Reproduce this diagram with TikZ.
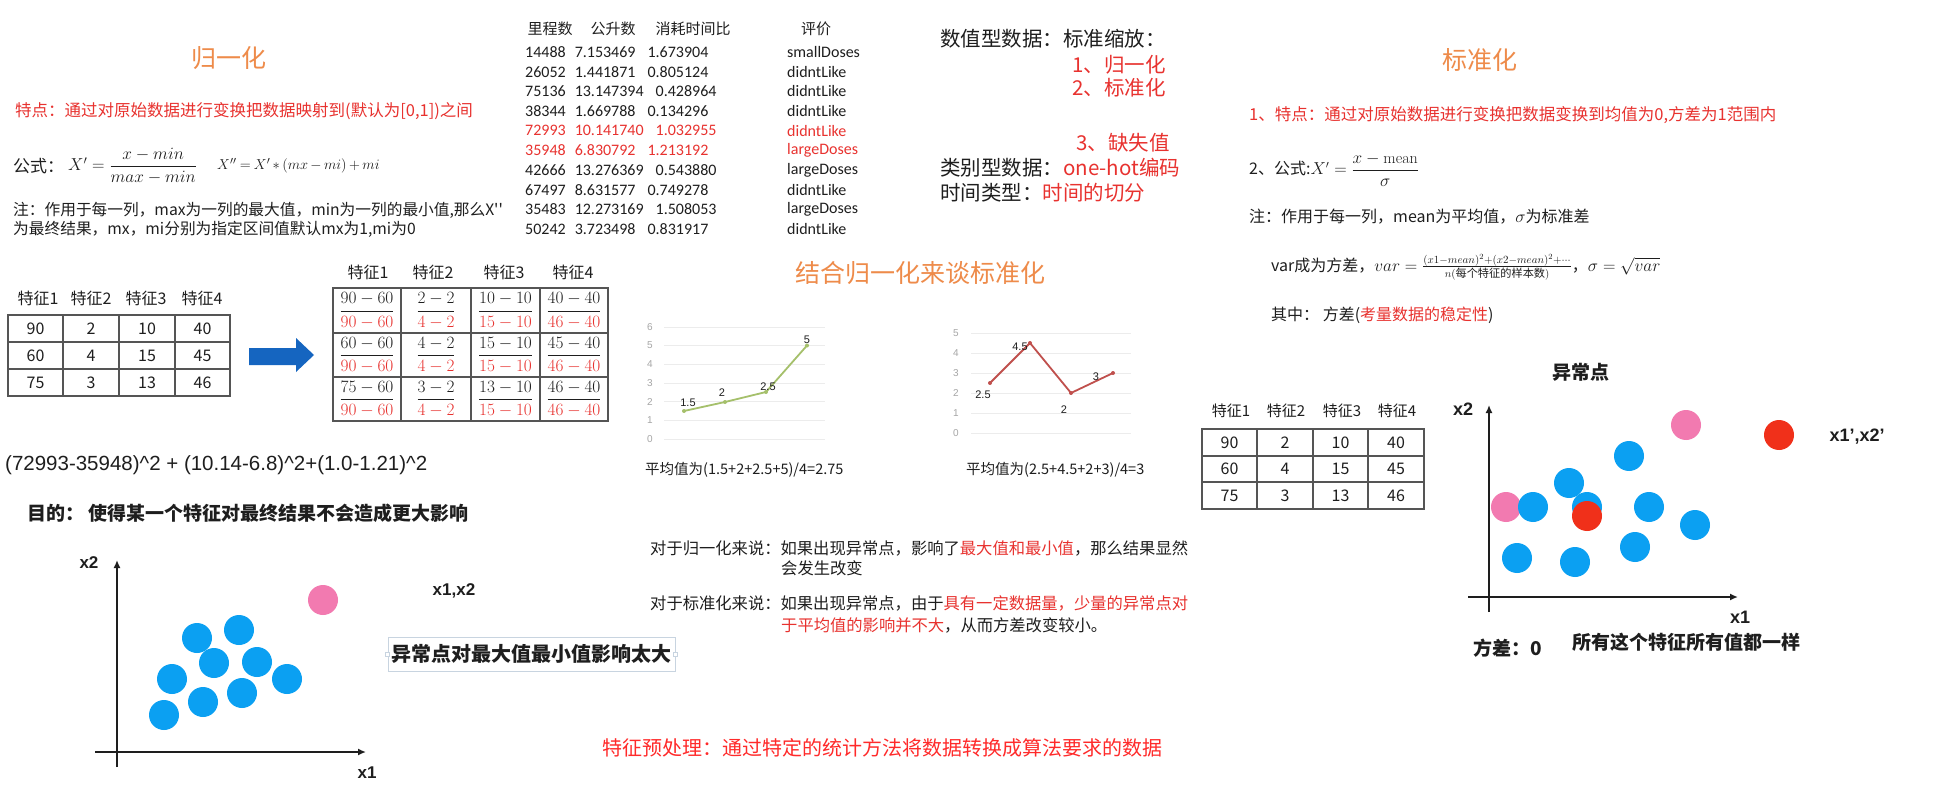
\documentclass[tikz,border=0pt]{standalone}
\usepackage{fontspec}
\usepackage{amsmath}
\newfontfamily\cjk{Noto Sans CJK SC}
\newfontfamily\arialf{Liberation Sans}
\newfontfamily\calib{Carlito}
\usetikzlibrary{arrows.meta}
\definecolor{ttl}{HTML}{EE8B4A}
\definecolor{ink}{HTML}{1E1E1E}
\definecolor{redtxt}{HTML}{E8322F}
\definecolor{brightred}{HTML}{FF2A2A}
\definecolor{tblgray}{HTML}{555555}
\definecolor{dotblue}{HTML}{0BA0F2}
\definecolor{dotpink}{HTML}{F27AB0}
\definecolor{dotred}{HTML}{F0301A}
\definecolor{arrblue}{HTML}{1565C0}
\definecolor{lgreen}{HTML}{A5C06B}
\definecolor{lred}{HTML}{C0504D}
\definecolor{boxgray}{HTML}{C8D4E0}
\newcommand\fsz[1]{\fontsize{#1}{#1}\selectfont}
\tikzset{
 txt/.style={inner sep=0pt,anchor=west,text=ink,font={\cjk\fsz{#1}}},
 txt/.default=16,
 ctxt/.style={txt=#1,anchor=center},
 ctxt/.default=16,
 rtxt/.style={txt=#1,text=redtxt},
 rtxt/.default=16,
 btxt/.style={inner sep=0pt,anchor=center,text=ink,font={\cjk\bfseries\fsz{#1}}},
 btxt/.default=18,
 ltxt/.style={inner sep=0pt,anchor=center,text=ink,font={\arialf\bfseries\fsz{#1}}},
 ltxt/.default=18,
 ttlstyle/.style={inner sep=0pt,text=ttl,font={\cjk\fsz{#1}}},
 ttlstyle/.default=25,
 numtxt/.style={inner sep=0pt,anchor=west,text=ink,font={\calib\fsz{16}}},
 tcell/.style={inner sep=0pt,text=ink,font={\cjk\fsz{16}}},
 fcell/.style={inner sep=0pt,text=ink,font={\fsz{16}}},
 tbl/.style={draw=tblgray,line width=1.2pt},
 dotb/.style={circle,fill=dotblue,minimum size=30pt,inner sep=0pt},
 dotp/.style={dotb,fill=dotpink},
 dotr/.style={dotb,fill=dotred},
 ax/.style={draw=ink,line width=1.6pt,-{Latex[length=8pt,width=7pt]}},
 gridln/.style={draw=gray!15,line width=0.6pt},
 ticklab/.style={inner sep=0pt,text=gray!70,font={\arialf\fsz{10}}},
 plab/.style={inner sep=0pt,text=ink,font={\arialf\fsz{11}}},
 mk/.style={circle,inner sep=0pt,minimum size=4pt},
}
\begin{document}
\begin{tikzpicture}[x=1pt,y=-1pt]
\useasboundingbox (0,0) rectangle (1938,810);
\fill[white] (0,0) rectangle (1938,810);

% ================= LEFT: normalisation =================
\node[ttlstyle] (t1) at (229,58) {归一化};
\node[rtxt=16.5] (l1) at (15,111) {特点：通过对原始数据进行变换把数据映射到(默认为[0,1])之间};
\node[txt=17] (l2a) at (13,166) {公式：};
\node[txt=17] (l2b) at (68,166) {$X' = \dfrac{x-min}{max-min}$};
\node[txt=15.5] (l2c) at (217,166) {\medmuskip=3mu\thickmuskip=4mu$X'' = X' * (mx-mi) + mi$};
\node[txt=15.7] (l3) at (13,210) {注：作用于每一列，max为一列的最大值，min为一列的最小值,那么X''};
\node[txt=15.7] (l4) at (13,229) {为最终结果，mx，mi分别为指定区间值默认mx为1,mi为0};

% left table
\foreach \h/\xx [count=\k] in {特征1/38,特征2/91,特征3/146,特征4/202}
  \node[tcell] (lh\k) at (\xx,298) {\h};
\draw[tbl] (8,315) rectangle (230,396);
\foreach \xx in {63,119,175} \draw[tbl] (\xx,315) -- (\xx,396);
\foreach \yy in {342,369} \draw[tbl] (8,\yy) -- (230,\yy);
\foreach \a/\b/\c/\d/\yy [count=\r] in {90/2/10/40/328.5,60/4/15/45/355.5,75/3/13/46/382.5}{
  \node[tcell] (la\r-1) at (35.5,\yy) {\a};
  \node[tcell] (la\r-2) at (91,\yy) {\b};
  \node[tcell] (la\r-3) at (147,\yy) {\c};
  \node[tcell] (la\r-4) at (202.5,\yy) {\d};
}
% blue arrow
\fill[arrblue] (249,348) -- (296,348) -- (296,338) -- (314,355) -- (296,372) -- (296,365) -- (249,365) -- cycle;

% right table with fractions
\foreach \h/\xx [count=\k] in {特征1/368,特征2/433,特征3/504,特征4/573}
  \node[tcell] (rh\k) at (\xx,272) {\h};
\draw[tbl] (333,288) rectangle (608,421);
\foreach \xx in {401,471,540} \draw[tbl] (\xx,288) -- (\xx,421);
\foreach \yy in {333,377} \draw[tbl] (333,\yy) -- (608,\yy);
\foreach \na/\da/\nb/\db/\nc/\dc/\nd/\dd/\yy [count=\r] in
 {90-60/90-60/2-2/4-2/10-10/15-10/40-40/46-40/310.5,
  60-60/90-60/4-2/4-2/15-10/15-10/45-40/46-40/355,
  75-60/90-60/3-2/4-2/13-10/15-10/46-40/46-40/399}{
  \node[fcell] (fr\r-1) at (367,\yy) {$\dfrac{\na}{\color{redtxt}\da}$};
  \node[fcell] (fr\r-2) at (436,\yy) {$\dfrac{\nb}{\color{redtxt}\db}$};
  \node[fcell] (fr\r-3) at (505.5,\yy) {$\dfrac{\nc}{\color{redtxt}\dc}$};
  \node[fcell] (fr\r-4) at (574,\yy) {$\dfrac{\nd}{\color{redtxt}\dd}$};
}

\node[inner sep=0pt,anchor=west,text=ink,font={\arialf\fsz{20.5}}] (dist) at (5,465) {(72993-35948)\^{}2 + (10.14-6.8)\^{}2+(1.0-1.21)\^{}2};
\node[btxt=19,anchor=west] (goal) at (27,513) {目的：\ 使得某一个特征对最终结果不会造成更大影响};

% left scatter
\coordinate (lv0) at (117,767);
\coordinate (lv1) at (117,560);
\coordinate (lh0) at (95,752);
\coordinate (lh1) at (366,752);
\draw[ax] (lv0) -- (lv1);
\draw[ax] (lh0) -- (lh1);
\node[ltxt=17] (lx2) at (89,563) {x2};
\node[ltxt=17] (lx1) at (367,773) {x1};
\foreach \px/\py [count=\k] in {197/638,239/630,214/663,257/662,172/679,287/679,203/702,242/693,164/715}
  \node[dotb] (ld\k) at (\px,\py) {};
\node[dotp] (ldp) at (323,600) {};
\node[ltxt=17] (lx12) at (454,591) {x1,x2};
\node[btxt=20,draw=boxgray,line width=0.8pt,minimum width=287pt,minimum height=34pt] (box) at (531.5,654) {异常点对最大值最小值影响太大};
\draw[boxgray,fill=white,line width=0.6pt] ([shift={(-2,-2)}]box.west) rectangle ([shift={(2,2)}]box.west);
\draw[boxgray,fill=white,line width=0.6pt] ([shift={(-2,-2)}]box.east) rectangle ([shift={(2,2)}]box.east);

% ================= MIDDLE top: data =================
\node[ctxt=15] (dh1) at (550,29) {里程数};
\node[ctxt=15] (dh2) at (613,29) {公升数};
\node[ctxt=15] (dh3) at (693,29) {消耗时间比};
\node[ctxt=15] (dh4) at (816,29) {评价};
\foreach \a/\b/\c/\d/\cl [count=\r] in {
  14488/7.153469/1.673904/smallDoses/ink,
  26052/1.441871/0.805124/didntLike/ink,
  75136/13.147394/0.428964/didntLike/ink,
  38344/1.669788/0.134296/didntLike/ink,
  72993/10.141740/1.032955/didntLike/redtxt,
  35948/6.830792/1.213192/largeDoses/redtxt,
  42666/13.276369/0.543880/largeDoses/ink,
  67497/8.631577/0.749278/didntLike/ink,
  35483/12.273169/1.508053/largeDoses/ink,
  50242/3.723498/0.831917/didntLike/ink}{
  \pgfmathsetmacro\yy{52+19.66*(\r-1)}
  \node[numtxt,text=\cl] (dr\r) at (525,\yy) {\a\hspace{9pt}\b\hspace{12pt}\c};
  \node[numtxt,text=\cl] (dv\r) at (787,\yy) {\d};
}

% data-type panel
\node[txt=20.5] (p1) at (940,39) {数值型数据：标准缩放：};
\node[rtxt=20.5] (p2) at (1072,65) {1、归一化};
\node[rtxt=20.5] (p3) at (1072,88) {2、标准化};
\node[rtxt=20.5] (p4) at (1076,143) {3、缺失值};
\node[txt=20.5] (p5) at (940,168) {类别型数据：\textcolor{redtxt}{one-hot编码}};
\node[txt=20.5] (p6) at (940,193) {时间类型：\textcolor{redtxt}{时间的切分}};

% ================= MIDDLE: charts =================
\node[ttlstyle=25] (t2) at (920,273) {结合归一化来谈标准化};
\foreach \v in {0,...,6}{
  \draw[gridln] (664,{439-18.7*\v}) -- (825,{439-18.7*\v});
  \node[ticklab] (ca\v) at (650,{439-18.7*\v}) {\v};
}
\coordinate (c1a) at (684,411);
\coordinate (c1b) at (725,402);
\coordinate (c1c) at (766,392);
\coordinate (c1d) at (807,345.5);
\draw[lgreen,line width=1.8pt] (c1a) -- (c1b) -- (c1c) -- (c1d);
\foreach \c in {c1a,c1b,c1c,c1d} \node[mk,fill=lgreen] (m\c) at (\c) {};
\node[plab] (p1a) at (688,403) {1.5};
\node[plab] (p1b) at (722,393) {2};
\node[plab] (p1c) at (768,387) {2.5};
\node[plab] (p1d) at (807,340) {5};
\node[txt=14.5] (avg1) at (645,470) {平均值为(1.5+2+2.5+5)/4=2.75};

\foreach \v in {0,...,5}{
  \draw[gridln] (971,{433-20*\v}) -- (1131,{433-20*\v});
  \node[ticklab] (cb\v) at (956,{433-20*\v}) {\v};
}
\coordinate (c2a) at (990,383);
\coordinate (c2b) at (1030,343);
\coordinate (c2c) at (1071,393);
\coordinate (c2d) at (1113,373);
\draw[lred,line width=1.8pt] (c2a) -- (c2b) -- (c2c) -- (c2d);
\foreach \c in {c2a,c2b,c2c,c2d} \node[mk,fill=lred] (m\c) at (\c) {};
\node[plab] (p2a) at (983,395) {2.5};
\node[plab] (p2b) at (1020,347) {4.5};
\node[plab] (p2c) at (1064,410) {2};
\node[plab] (p2d) at (1096,377) {3};
\node[txt=14.5] (avg2) at (966,470) {平均值为(2.5+4.5+2+3)/4=3};

\node[txt=16.3] (e1) at (650,548) {对于归一化来说：如果出现异常点，影响了\textcolor{redtxt}{最大值和最小值}，那么结果显然};
\node[txt=16.3] (e2) at (781,568) {会发生改变};
\node[txt=16.3] (e3) at (650,603) {对于标准化来说：如果出现异常点，由于\textcolor{redtxt}{具有一定数据量，少量的异常点对}};
\node[txt=16.3] (e4) at (781,625) {\textcolor{redtxt}{于平均值的影响并不大}，从而方差改变较小。};

\node[txt=20,text=brightred,anchor=center] (bottom) at (882,748) {特征预处理：通过特定的统计方法将数据转换成算法要求的数据};

% ================= RIGHT: standardisation =================
\node[ttlstyle] (t3) at (1480,60) {标准化};
\node[rtxt=16.5] (s1) at (1249,115) {1、特点：通过对原始数据进行变换把数据变换到均值为0,方差为1范围内};
\node[txt=16] (s2) at (1249,170) {2、公式:$X' = \dfrac{x-\mathrm{mean}}{\sigma}$};
\node[txt=16] (s3) at (1249,217) {注：作用于每一列，mean为平均值，$\sigma$为标准差};
\node[txt=16] (s4) at (1271,267) {var成为方差，$var = \frac{(x1-mean)^2+(x2-mean)^2+\cdots}{n(\text{每个特征的样本数})}$，$\sigma = \sqrt{var}$};
\node[txt=16] (s5) at (1271,315) {其中：\ 方差(\textcolor{redtxt}{考量数据的稳定性})};

\node[btxt=19] (anom) at (1581,372) {异常点};
\foreach \h/\xx [count=\k] in {特征1/1231,特征2/1286,特征3/1342,特征4/1397}
  \node[tcell,font={\cjk\fsz{15}}] (qh\k) at (\xx,411) {\h};
\draw[tbl] (1202,429) rectangle (1424,509);
\foreach \xx in {1257,1313,1368} \draw[tbl] (\xx,429) -- (\xx,509);
\foreach \yy in {456,482} \draw[tbl] (1202,\yy) -- (1424,\yy);
\foreach \a/\b/\c/\d/\yy [count=\r] in {90/2/10/40/442.5,60/4/15/45/469,75/3/13/46/495.5}{
  \node[tcell] (qa\r-1) at (1229.5,\yy) {\a};
  \node[tcell] (qa\r-2) at (1285,\yy) {\b};
  \node[tcell] (qa\r-3) at (1340.5,\yy) {\c};
  \node[tcell] (qa\r-4) at (1396,\yy) {\d};
}

\coordinate (rv0) at (1489,612);
\coordinate (rv1) at (1489,405);
\coordinate (rh0) at (1468,597);
\coordinate (rh1) at (1738,597);
\draw[ax] (rv0) -- (rv1);
\draw[ax] (rh0) -- (rh1);
\node[ltxt=18] (rx2) at (1463,409) {x2};
\node[ltxt=18] (rx1) at (1740,617) {x1};
\node[dotp] (rp1) at (1506,507) {};
\foreach \px/\py [count=\k] in {1629/456,1569/483,1533/507,1587/507,1649/507,1695/525,1517/558,1575/562,1635/547}
  \node[dotb] (rd\k) at (\px,\py) {};
\node[dotp] (rp2) at (1686,425) {};
\node[dotr] (rr1) at (1779,435) {};
\node[dotr] (rr2) at (1587,516) {};
\node[ltxt=18] (rx12) at (1857,437) {x1’,x2’};
\node[btxt=19] (var0) at (1508,648) {方差：0};
\node[btxt=19] (same) at (1686,642) {所有这个特征所有值都一样};
\end{tikzpicture}
\end{document}
